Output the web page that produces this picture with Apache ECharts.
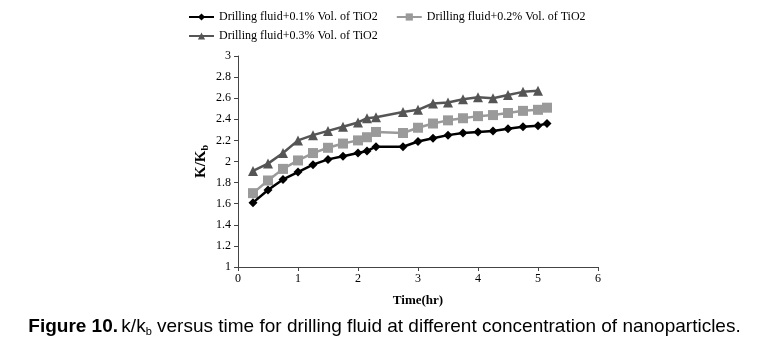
<!DOCTYPE html>
<html>
<head>
<meta charset="utf-8">
<script src="https://cdn.jsdelivr.net/npm/echarts@6/dist/echarts.min.js"></script>
<style>
  html, body { margin: 0; padding: 0; background: #fff; }
  #chart { width: 769px; height: 350px; }
</style>
</head>
<body>
<div id="chart"></div>
<script>
// time (hr)
var timeA = [0.25, 0.5, 0.75, 1, 1.25, 1.5, 1.75, 2, 2.15, 2.3, 2.75, 3, 3.25, 3.5, 3.75, 4, 4.25, 4.5, 4.75, 5, 5.15]
var timeC = [0.25, 0.5, 0.75, 1, 1.25, 1.5, 1.75, 2, 2.15, 2.3, 2.75, 3, 3.25, 3.5, 3.75, 4, 4.25, 4.5, 4.75, 5]
// k/kb
var tio01 = [1.61, 1.73, 1.83, 1.90, 1.97, 2.02, 2.05, 2.08, 2.10, 2.14, 2.14, 2.19, 2.22, 2.25, 2.27, 2.28, 2.29, 2.31, 2.33, 2.34, 2.36]
var tio02 = [1.70, 1.82, 1.93, 2.01, 2.08, 2.13, 2.17, 2.20, 2.23, 2.28, 2.27, 2.32, 2.36, 2.39, 2.41, 2.43, 2.44, 2.46, 2.48, 2.49, 2.51]
var tio03 = [1.91, 1.98, 2.08, 2.20, 2.25, 2.29, 2.33, 2.37, 2.41, 2.42, 2.47, 2.49, 2.55, 2.56, 2.59, 2.61, 2.60, 2.63, 2.66, 2.67]
var names = ['Drilling fluid+0.1% Vol. of TiO2', 'Drilling fluid+0.2% Vol. of TiO2', 'Drilling fluid+0.3% Vol. of TiO2']

function pairs(xs, ys) {
  var out = []
  for (var i = 0; i < ys.length; i++) {
    out.push([xs[i], ys[i]])
  }
  return out
}

var serif = '"Liberation Serif", "Times New Roman", serif'
var sans = '"Liberation Sans Narrow", "Liberation Sans", Arial, sans-serif'
var chart = echarts.init(document.getElementById('chart'))

var option = {
  animation: false,
  backgroundColor: '#fff',
  textStyle: { fontFamily: serif },
  legend: [{
    left: 183,
    top: 6,
    itemWidth: 25,
    itemHeight: 9,
    itemGap: 18,
    textStyle: { fontFamily: serif, fontSize: 12, color: '#000' },
    data: [names[0], names[1]]
  }, {
    left: 183,
    top: 25,
    itemWidth: 25,
    itemHeight: 9,
    textStyle: { fontFamily: serif, fontSize: 12, color: '#000' },
    data: [names[2]]
  }],
  grid: { left: 238, right: 171, top: 56, bottom: 83 },
  xAxis: {
    type: 'value',
    min: 0,
    max: 6,
    interval: 1,
    name: 'Time(hr)',
    nameLocation: 'middle',
    nameGap: 27,
    nameTextStyle: { fontFamily: serif, fontSize: 13, fontWeight: 'bold', color: '#000' },
    axisLine: { lineStyle: { color: '#444', width: 1 } },
    axisTick: { show: true, length: 4, lineStyle: { color: '#444' } },
    axisLabel: { fontFamily: serif, fontSize: 12, color: '#000', margin: 6 },
    splitLine: { show: false }
  },
  yAxis: {
    type: 'value',
    min: 1,
    max: 3,
    interval: 0.2,
    name: '{k|K/K}{b|b}',
    nameLocation: 'middle',
    nameGap: 28,
    nameRotate: 90,
    nameTextStyle: {
      rich: {
        k: { fontFamily: serif, fontSize: 15, fontWeight: 'bold', color: '#000' },
        b: { fontFamily: serif, fontSize: 10, fontWeight: 'bold', color: '#000', padding: [7, 0, 0, 0] }
      }
    },
    axisLine: { show: true, lineStyle: { color: '#444', width: 1 } },
    axisTick: { show: true, length: 4, lineStyle: { color: '#444' } },
    axisLabel: { fontFamily: serif, fontSize: 12, color: '#000', margin: 7 },
    splitLine: { show: false }
  },
  series: [{
    name: names[0],
    type: 'line',
    data: pairs(timeA, tio01),
    symbol: 'diamond',
    symbolSize: 9,
    lineStyle: { color: '#000', width: 2.5 },
    itemStyle: { color: '#000' },
    z: 3
  }, {
    name: names[1],
    type: 'line',
    data: pairs(timeA, tio02),
    symbol: 'rect',
    symbolSize: 10,
    lineStyle: { color: '#9a9a9a', width: 2.5 },
    itemStyle: { color: '#9a9a9a' },
    z: 2
  }, {
    name: names[2],
    type: 'line',
    data: pairs(timeC, tio03),
    symbol: 'triangle',
    symbolSize: 10,
    lineStyle: { color: '#555', width: 2.5 },
    itemStyle: { color: '#555' },
    z: 1
  }],
  graphic: [{
    type: 'text',
    left: 'center',
    top: 317,
    style: {
      text: '{f|Figure 10.} {t|k/k}{s|b}{t| versus time for drilling fluid at different concentration of nanoparticles.}',
      rich: {
        f: { fontFamily: sans, fontSize: 19, fontWeight: 'bold', fill: '#000' },
        t: { fontFamily: sans, fontSize: 19, fill: '#000' },
        s: { fontFamily: sans, fontSize: 11, fill: '#000', padding: [11, 0, 0, 0] }
      }
    }
  }]
}

chart.setOption(option)
</script>
</body>
</html>
